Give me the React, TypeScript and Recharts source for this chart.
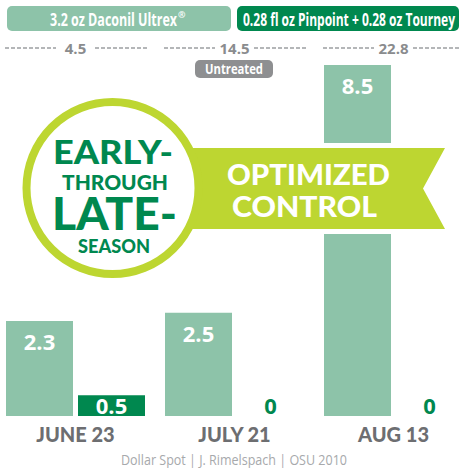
import React from 'react';
import { BarChart, Bar, XAxis, YAxis, LabelList } from 'recharts';

const categories = ['JUNE 23', 'JULY 21', 'AUG 13'];
const daconil = [2.3, 2.5, 8.5];
const pinpoint = [0.5, 0, 0];
const untreated = [4.5, 14.5, 22.8];
const seriesNames = ['3.2 oz Daconil Ultrex', '0.28 fl oz Pinpoint + 0.28 oz Tourney'];
const untreatedName = 'Untreated';
const badgeLines = ['EARLY-', 'THROUGH', 'LATE-', 'SEASON'];
const ribbonLines = ['OPTIMIZED', 'CONTROL'];
const source = 'Dollar Spot | J. Rimelspach | OSU 2010';

const data = categories.map((c, i) => ({
  date: c,
  daconil: daconil[i],
  pinpoint: pinpoint[i],
  untreated: untreated[i],
}));

const LIGHT = '#8DC3A9';
const DARK = '#00884F';
const LIME = '#BDD631';
const AXIS_TXT = '#6D6E71';
const DASH = '#9C9EA1';
const SRC_TXT = '#A7A9AC';
const UNT_TXT = '#8A8C8E';
const PILL_GRAY = '#8E8F91';
const BAR_GAP = 5;
const NUM_FONT = '"Open Sans", sans-serif';
const HEAD_FONT = 'Lato, sans-serif';

const box = (p: any) => {
  const v = p.viewBox && p.viewBox.width !== undefined ? p.viewBox : p;
  return { x: Number(v.x), y: Number(v.y), w: Number(v.width), h: Number(v.height) };
};

const DaconilLabel = (p: any) => {
  const b = box(p);
  return (
    <text x={b.x + b.w / 2} y={b.y + 29} textAnchor="middle" fontFamily={NUM_FONT} fontWeight={700} fontSize={22} fill="#fff">
      {String(p.value)}
    </text>
  );
};

const PinpointLabel = (p: any) => {
  const b = box(p);
  if (Number(p.value) === 0) return null;
  return (
    <text x={b.x + b.w / 2} y={b.y + b.h - 2} textAnchor="middle" fontFamily={NUM_FONT} fontWeight={700} fontSize={22} fill="#fff">
      {String(p.value)}
    </text>
  );
};

const PinpointZeroLabel = (p: any) => {
  const b = box(p);
  if (Number(p.value) !== 0) return null;
  return (
    <text x={b.x + b.w * 1.5 + BAR_GAP} y={b.y + b.h - 2} textAnchor="middle" fontFamily={NUM_FONT} fontWeight={700} fontSize={22} fill={DARK}>
      {String(p.value)}
    </text>
  );
};

const UntreatedLabel = (p: any) => {
  const b = box(p);
  const left = b.x - 1;
  const right = b.x + 2 * b.w + BAR_GAP + 2;
  const cx = b.x + b.w + BAR_GAP / 2;
  const ly = 48;
  const segs = [
    [left, cx - 19.5],
    [cx + 19.5, right],
  ];
  return (
    <g>
      {segs.map(([a, z], i) => (
        <path key={i} d={`M${a},${ly}H${z}`} stroke={DASH} strokeWidth={1.3} strokeDasharray="4,2" />
      ))}
      <text x={cx} y={ly + 6} textAnchor="middle" fontFamily={NUM_FONT} fontWeight={700} fontSize={15} fill={UNT_TXT}>
        {Number(p.value).toFixed(1)}
      </text>
    </g>
  );
};

const AxisTick = (p: any) => (
  <text x={p.x} y={p.y + 18} textAnchor="middle" fontFamily={HEAD_FONT} fontWeight={900} fontSize={20} fill={AXIS_TXT}>
    {p.payload.value}
  </text>
);

export default function App() {
  return (
    <div style={{ position: 'absolute', left: 0, top: 0, width: 460, height: 468, overflow: 'hidden', background: '#fff' }}>
      <div style={{ position: 'absolute', left: -4, top: 0 }}>
        <BarChart
          width={477}
          height={468}
          data={data}
          margin={{ top: 3, right: 0, bottom: 0, left: 0 }}
          barCategoryGap={10}
          barGap={BAR_GAP}
        >
          <YAxis hide type="number" domain={[0, 10]} />
          <XAxis dataKey="date" axisLine={false} tickLine={false} height={52} interval={0} tick={<AxisTick />} />
          <Bar dataKey="daconil" fill={LIGHT} isAnimationActive={false}>
            <LabelList dataKey="untreated" content={UntreatedLabel} />
            <LabelList dataKey="daconil" content={DaconilLabel} />
            <LabelList dataKey="pinpoint" content={PinpointZeroLabel} />
          </Bar>
          <Bar dataKey="pinpoint" fill={DARK} isAnimationActive={false}>
            <LabelList dataKey="pinpoint" content={PinpointLabel} />
          </Bar>
        </BarChart>
      </div>
      <svg width={460} height={468} style={{ position: 'absolute', left: 0, top: 0, pointerEvents: 'none' }}>
        <rect x={7} y={6} width={224} height={25} rx={5} fill={LIGHT} />
        <text x={50} y={26} fontFamily={NUM_FONT} fontWeight={700} fontSize={18} fill="#fff" textLength={127} lengthAdjust="spacingAndGlyphs">
          {seriesNames[0]}
        </text>
        <text x={178} y={18} fontFamily={NUM_FONT} fontWeight={700} fontSize={9} fill="#fff">®</text>
        <rect x={237} y={6} width={222} height={25} rx={5} fill={DARK} />
        <text x={243} y={26} fontFamily={NUM_FONT} fontWeight={700} fontSize={18} fill="#fff" textLength={212} lengthAdjust="spacingAndGlyphs">
          {seriesNames[1]}
        </text>
        <rect x={195} y={60} width={78} height={18} rx={5} fill={PILL_GRAY} />
        <text x={234} y={74} textAnchor="middle" fontFamily={NUM_FONT} fontWeight={700} fontSize={15} fill="#fff" textLength={58} lengthAdjust="spacingAndGlyphs">
          {untreatedName}
        </text>

        <polygon points="150,148 445,148 423,188.5 445,229 150,229" fill={LIME} stroke="#fff" strokeWidth={10} strokeLinejoin="miter" paintOrder="stroke" />
        <circle cx={112.5} cy={188} r={86} fill="#fff" stroke={LIME} strokeWidth={8} />
        <text x={113} y={164} textAnchor="middle" fontFamily={HEAD_FONT} fontWeight={900} fontSize={33} fill={DARK} textLength={120} lengthAdjust="spacingAndGlyphs">{badgeLines[0]}</text>
        <text x={115} y={189.5} textAnchor="middle" fontFamily={HEAD_FONT} fontWeight={900} fontSize={21} fill={DARK} textLength={106} lengthAdjust="spacingAndGlyphs">{badgeLines[1]}</text>
        <text x={114.5} y={230} textAnchor="middle" fontFamily={HEAD_FONT} fontWeight={900} fontSize={45} fill={DARK} textLength={125} lengthAdjust="spacingAndGlyphs">{badgeLines[2]}</text>
        <text x={114} y={253} textAnchor="middle" fontFamily={HEAD_FONT} fontWeight={900} fontSize={18} fill={DARK} textLength={72} lengthAdjust="spacingAndGlyphs">{badgeLines[3]}</text>
        <text x={308.5} y={185} textAnchor="middle" fontFamily={HEAD_FONT} fontWeight={900} fontSize={29} fill="#fff" textLength={163} lengthAdjust="spacingAndGlyphs">{ribbonLines[0]}</text>
        <text x={304.5} y={216.5} textAnchor="middle" fontFamily={HEAD_FONT} fontWeight={900} fontSize={29} fill="#fff" textLength={145} lengthAdjust="spacingAndGlyphs">{ribbonLines[1]}</text>

        <text x={234} y={465} textAnchor="middle" fontFamily={NUM_FONT} fontWeight={400} fontSize={15} fill={SRC_TXT} textLength={226} lengthAdjust="spacingAndGlyphs">
          {source}
        </text>
      </svg>
    </div>
  );
}
